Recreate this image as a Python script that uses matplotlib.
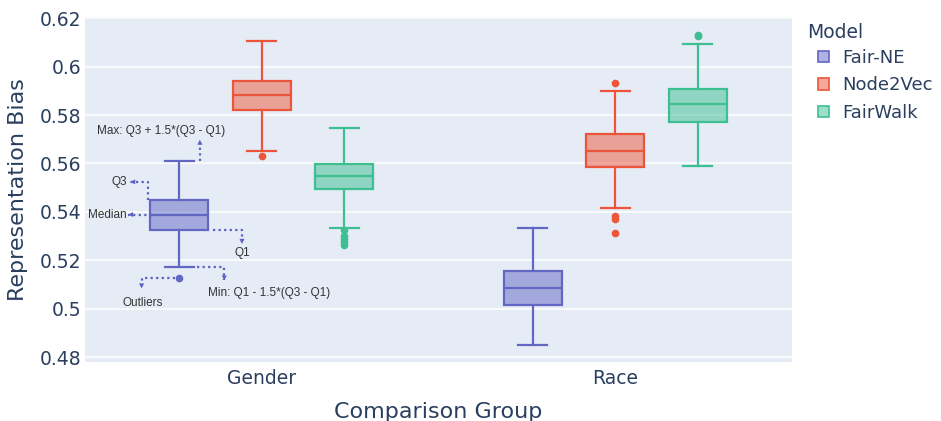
import matplotlib
matplotlib.use("Agg")
import matplotlib.pyplot as plt
from matplotlib.patches import Patch

# ---------------- data ----------------
groups = ["Gender", "Race"]
models = ["Fair-NE", "Node2Vec", "FairWalk"]
colors = ["#6267c4", "#ec5539", "#3dbf92"]

# per model: [Gender, Race]
whislo = {"Fair-NE": [0.5171, 0.4849], "Node2Vec": [0.5651, 0.5415], "FairWalk": [0.5335, 0.5588]}
q1 = {"Fair-NE": [0.5327, 0.5014], "Node2Vec": [0.5820, 0.5584], "FairWalk": [0.5493, 0.5772]}
med = {"Fair-NE": [0.5389, 0.5085], "Node2Vec": [0.5882, 0.5653], "FairWalk": [0.5550, 0.5845]}
q3 = {"Fair-NE": [0.5451, 0.5156], "Node2Vec": [0.5941, 0.5721], "FairWalk": [0.5598, 0.5909]}
whishi = {"Fair-NE": [0.5611, 0.5333], "Node2Vec": [0.6106, 0.5900], "FairWalk": [0.5747, 0.6093]}
fliers = {
    "Fair-NE": [[0.5125], []],
    "Node2Vec": [[0.5629], [0.5931, 0.5385, 0.5371, 0.5312]],
    "FairWalk": [[0.5326, 0.5302, 0.5289, 0.5275, 0.5264], [0.6130, 0.6125]],
}

offsets = [-0.233, 0.0, 0.233]
box_w = 0.164

# ---------------- figure ----------------
plt.rcParams["font.family"] = ["DejaVu Sans"]
txt_col = "#2a3f5f"

fig = plt.figure(figsize=(9.41, 4.21), dpi=100)
ax = fig.add_axes([85 / 941, 1 - 362 / 421, 707 / 941, 345 / 421])
ax.set_facecolor("#E5ECF6")
for s in ax.spines.values():
    s.set_visible(False)
ax.grid(axis="y", color="white", lw=1.1)
ax.set_axisbelow(True)

for m, c, off in zip(models, colors, offsets):
    stats = []
    for i in range(len(groups)):
        stats.append(dict(whislo=whislo[m][i], q1=q1[m][i], med=med[m][i],
                          q3=q3[m][i], whishi=whishi[m][i], fliers=fliers[m][i]))
    pos = [i + off for i in range(len(groups))]
    ax.bxp(stats, positions=pos, widths=box_w, capwidths=box_w * 0.5,
           patch_artist=True, showfliers=True, manage_ticks=False,
           boxprops=dict(facecolor=matplotlib.colors.to_rgba(c, 0.5), edgecolor=c, lw=1.6),
           medianprops=dict(color=c, lw=1.6),
           whiskerprops=dict(color=c, lw=1.6),
           capprops=dict(color=c, lw=1.6),
           flierprops=dict(marker="o", markerfacecolor=c, markeredgecolor=c,
                           markersize=4.5, linestyle="none"))

ax.set_xlim(-0.5, 1.5)
ax.set_ylim(0.478, 0.6205)
ax.set_yticks([0.48, 0.5, 0.52, 0.54, 0.56, 0.58, 0.6, 0.62])
ax.set_yticklabels(["0.48", "0.5", "0.52", "0.54", "0.56", "0.58", "0.6", "0.62"])
ax.set_xticks([0, 1])
ax.set_xticklabels(groups)
ax.tick_params(axis="y", length=0, labelsize=13.5, colors=txt_col, pad=2.5)
ax.tick_params(axis="x", length=0, labelsize=13.5, colors=txt_col, pad=5)
ax.set_xlabel("Comparison Group", fontsize=16, color=txt_col, labelpad=10)
ax.set_ylabel("Representation Bias", fontsize=16, color=txt_col)
ax.yaxis.set_label_coords(-57 / 707, 0.5)

# ---------------- explanatory annotations on the Gender / Fair-NE box ----------------
acol = "#5b60c2"
ann_font = dict(fontsize=8.5, color="#333333", family=["Liberation Sans", "DejaVu Sans"])
cx = offsets[0]
g = 0


def dotted(xs, ys):
    ax.plot(xs, ys, ls=(0, (1, 1.5)), color=acol, lw=1.6, zorder=5)
    ax.annotate("", xy=(xs[-1], ys[-1]), xytext=(xs[-2], ys[-2]),
                arrowprops=dict(arrowstyle="-|>", color=acol, lw=0, mutation_scale=9,
                                shrinkA=0, shrinkB=0), zorder=6)


# Max
top = whishi["Fair-NE"][g] + 0.0087
dotted([cx + 0.058, cx + 0.058], [whishi["Fair-NE"][g], top])
ax.text(cx - 0.232, top + 0.0035, "Max: Q3 + 1.5*(Q3 - Q1)", ha="left", va="center", **ann_font)
# Q3
q3y = q3["Fair-NE"][g] + 0.0073
dotted([cx - 0.088, cx - 0.088, cx - 0.139], [q3["Fair-NE"][g], q3y, q3y])
ax.text(cx - 0.148, q3y, "Q3", ha="right", va="center", **ann_font)
# Median
dotted([cx - 0.077, cx - 0.145], [med["Fair-NE"][g], med["Fair-NE"][g]])
ax.text(cx - 0.150, med["Fair-NE"][g], "Median", ha="right", va="center", **ann_font)
# Q1
dotted([cx + 0.095, cx + 0.177, cx + 0.177], [q1["Fair-NE"][g], q1["Fair-NE"][g], q1["Fair-NE"][g] - 0.0059])
ax.text(cx + 0.177, q1["Fair-NE"][g] - 0.0098, "Q1", ha="center", va="center", **ann_font)
# Min
dotted([cx + 0.05, cx + 0.127, cx + 0.127], [whislo["Fair-NE"][g], whislo["Fair-NE"][g], whislo["Fair-NE"][g] - 0.0054])
ax.text(cx + 0.08, whislo["Fair-NE"][g] - 0.0105, "Min: Q1 - 1.5*(Q3 - Q1)", ha="left", va="center", **ann_font)
# Outliers
oy = fliers["Fair-NE"][g][0]
dotted([cx - 0.012, cx - 0.107, cx - 0.107], [oy, oy, oy - 0.0041])
ax.text(cx - 0.103, oy - 0.0100, "Outliers", ha="center", va="center", **ann_font)

# ---------------- legend ----------------
fig.text(807 / 941, 1 - 33 / 421, "Model", fontsize=13.5, color=txt_col, ha="left", va="center")
handles = [Patch(facecolor=matplotlib.colors.to_rgba(c, 0.5), edgecolor=c, lw=1.2, label=m)
           for m, c in zip(models, colors)]
leg = fig.legend(handles=handles, loc="upper left",
                 bbox_to_anchor=(818 / 941, 1 - 49 / 421), frameon=False,
                 fontsize=13, handlelength=0.62, handleheight=0.62,
                 handletextpad=0.75, labelspacing=0.52, labelcolor=txt_col,
                 borderaxespad=0, borderpad=0)

fig.savefig("out.png", dpi=100)
